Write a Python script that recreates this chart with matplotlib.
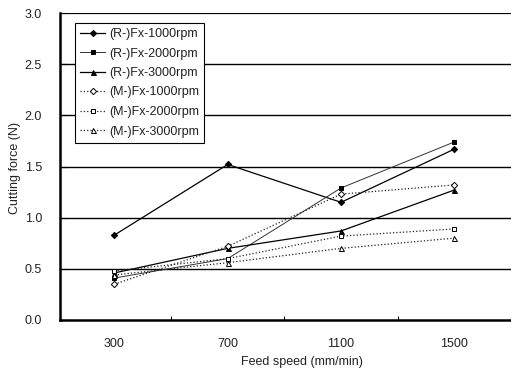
import matplotlib
matplotlib.use("Agg")
import matplotlib.pyplot as plt

categories = ["300", "700", "1100", "1500"]
series_labels = ["(R-)Fx-1000rpm", "(R-)Fx-2000rpm", "(R-)Fx-3000rpm",
                 "(M-)Fx-1000rpm", "(M-)Fx-2000rpm", "(M-)Fx-3000rpm"]
r_1000 = [0.83, 1.52, 1.15, 1.67]
r_2000 = [0.41, 0.60, 1.29, 1.74]
r_3000 = [0.46, 0.70, 0.87, 1.27]
m_1000 = [0.35, 0.72, 1.23, 1.32]
m_2000 = [0.48, 0.60, 0.82, 0.89]
m_3000 = [0.44, 0.56, 0.70, 0.80]
y_ticks = [0.0, 0.5, 1.0, 1.5, 2.0, 2.5, 3.0]

plt.rcParams['font.family'] = ['Liberation Sans', 'DejaVu Sans']
W, H = 511, 376
fig = plt.figure(figsize=(W / 100, H / 100), dpi=100)
ax = fig.add_axes([60 / W, (H - 320) / H, (W - 60) / W, 307 / H])

x = list(range(len(categories)))
styles = [
    dict(marker="D", linestyle="-", color="black", mfc="black", ms=3.2, lw=0.9),
    dict(marker="s", linestyle="-", color="#333333", mfc="black", ms=3.2, lw=0.7),
    dict(marker="^", linestyle="-", color="black", mfc="black", ms=3.6, lw=0.9),
    dict(marker="D", linestyle=":", color="#222222", mfc="white", ms=3.2, lw=0.9),
    dict(marker="s", linestyle=":", color="#222222", mfc="white", ms=3.2, lw=0.9),
    dict(marker="^", linestyle=":", color="#222222", mfc="white", ms=3.6, lw=0.9),
]
data = [r_1000, r_2000, r_3000, m_1000, m_2000, m_3000]
for vals, lab, st in zip(data, series_labels, styles):
    ax.plot(x, vals, label=lab, mec="black", mew=0.7, zorder=3, **st)

ax.set_xlim(-0.48, 3.48)
ax.set_ylim(0, 3.0)
ax.set_yticks(y_ticks)
ax.set_yticklabels([f"{v:.1f}" for v in y_ticks], fontsize=9, color="#222222")
ax.set_xticks(x)
ax.set_xticklabels(categories, fontsize=9, color="#222222")
ax.tick_params(axis="x", length=0, pad=13)
ax.tick_params(axis="y", direction="in", length=4, width=0.8, pad=13)
ax.set_xticks([i + 0.5 for i in range(len(categories))], minor=True)
ax.tick_params(axis="x", which="minor", direction="in", length=3, width=0.8)

for v in y_ticks[1:]:
    ax.axhline(v, color="black", lw=1.0 if v < 3.0 else 1.6, zorder=1)

ax.spines["left"].set_linewidth(1.8)
ax.spines["bottom"].set_linewidth(1.8)
ax.spines["right"].set_visible(False)
ax.spines["top"].set_visible(False)

fig.text(15 / W, 1 - 168 / H, "Cutting force (N)", rotation=90, fontsize=9,
         ha="center", va="center", color="#222222")
fig.text(302 / W, 1 - 362 / H, "Feed speed (mm/min)", fontsize=9,
         ha="center", va="center", color="#222222")

leg = ax.legend(loc="upper left", bbox_to_anchor=(15 / (W - 60), 1 - 10 / 307),
                fontsize=9, frameon=True, fancybox=False, edgecolor="black",
                framealpha=1, handlelength=2.0, handletextpad=0.3,
                labelspacing=0.6, borderpad=0.4, borderaxespad=0)
leg.get_frame().set_linewidth(0.8)
for t in leg.get_texts():
    t.set_color("#222222")

fig.savefig("out.png", dpi=100)
